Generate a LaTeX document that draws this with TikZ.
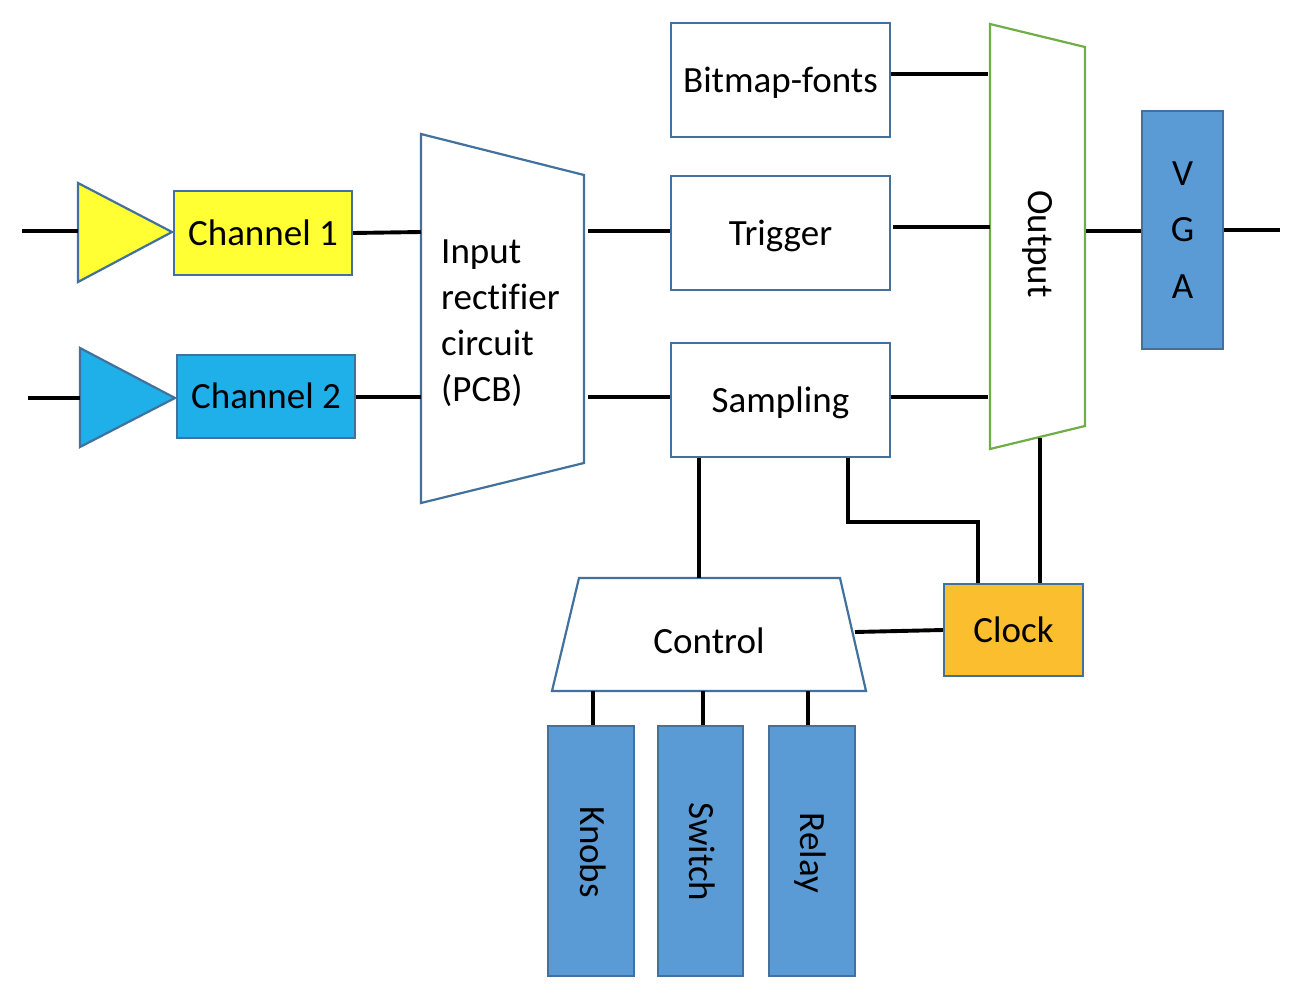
\documentclass[tikz,border=0pt]{standalone}
\usepackage{fontspec}
\setmainfont[Ligatures=NoCommon]{Carlito}
\definecolor{bord}{RGB}{65,113,156}
\definecolor{ylw}{RGB}{255,255,51}
\definecolor{cyanb}{RGB}{31,176,234}
\definecolor{steel}{RGB}{91,155,213}
\definecolor{grn}{RGB}{112,173,71}
\definecolor{orng}{RGB}{251,190,46}
\begin{document}
\begin{tikzpicture}[x=1pt,y=-1pt,
  every node/.style={font=\fontsize{37}{46}\selectfont, inner sep=0pt},
  blk/.style={draw=bord, line width=2.2pt, rectangle},
  lbl/.style={text height=30pt, text depth=6pt},
  wire/.style={line width=3.9pt, black},
  shp/.style={draw=bord, line width=2.2pt, line join=miter}]
\useasboundingbox (0,0) rectangle (1296,996);

% amplifiers
\draw[shp, fill=ylw] (78,183) -- (172,232) -- (78,282) -- cycle;
\draw[shp, fill=cyanb] (80,348) -- (175,398) -- (80,447) -- cycle;
\coordinate (t1w) at (78,231);
\coordinate (t2w) at (80,398);
\coordinate (in1) at (22,231);
\coordinate (in2) at (28,398);
\draw[wire] (in1) -- (t1w);
\draw[wire] (in2) -- (t2w);

% channels
\node[blk, lbl, fill=ylw, minimum width=178, minimum height=84] (ch1) at (263,233) {Channel 1};
\node[blk, lbl, fill=cyanb, minimum width=178, minimum height=83] (ch2) at (266,396.5) {Channel 2};

% input rectifier
\draw[shp, fill=white] (421,134) -- (584,175) -- (584,463) -- (421,503) -- cycle;
\node[anchor=west, align=left] (inp) at (441,323) {Input\\rectifier\\circuit\\(PCB)};
\coordinate (inW1) at (421,232);
\coordinate (inW2) at (421,397);
\coordinate (inE1) at (588,231);
\coordinate (inE2) at (588,397);
\draw[wire] (ch1.east) -- (inW1);
\draw[wire] (ch2.east |- inW2) -- (inW2);

% middle boxes
\node[blk, lbl, fill=white, minimum width=219, minimum height=114] (bmp) at (780.5,80) {Bitmap-fonts};
\node[blk, lbl, fill=white, minimum width=219, minimum height=114] (trig) at (780.5,233) {Trigger};
\node[blk, lbl, fill=white, minimum width=219, minimum height=114] (samp) at (780.5,400) {Sampling};
\draw[wire] (inE1) -- (inE1 -| trig.west);
\draw[wire] (inE2) -- (inE2 -| samp.west);

% output
\draw[draw=grn, line width=2.2pt, fill=white] (990,24) -- (1085,47) -- (1085,426) -- (990,449) -- cycle;
\node[rotate=-90] (outT) at (1038,244) {Output};
\coordinate (oL1) at (988,74);
\coordinate (oL2) at (990,227);
\coordinate (oL3) at (988,397);
\coordinate (oE) at (1086,231);
\coordinate (oB) at (1040,438);
\draw[wire] (bmp.east |- oL1) -- (oL1);
\draw[wire] ([xshift=2pt]trig.east |- oL2) -- (oL2);
\draw[wire] (samp.east |- oL3) -- (oL3);

% VGA
\node[blk, fill=steel, minimum width=81, minimum height=238, align=center,
      font=\fontsize{37}{56.5}\selectfont] (vga) at (1182.5,230) {V\\G\\A};
\coordinate (vR) at (1280,230);
\draw[wire] (oE) -- (oE -| vga.west);
\draw[wire] (vga.east |- vR) -- (vR);

% clock
\node[blk, lbl, fill=orng, minimum width=139, minimum height=92] (clk) at (1013.5,630) {Clock};
\draw[wire] (oB) -- (oB |- clk.north);
\coordinate (sc1) at (848,522);
\coordinate (sc2) at (978,522);
\draw[wire, line join=miter] (samp.south -| sc1) -- (sc1) -- (sc2) -- (sc2 |- clk.north);

% control
\draw[shp, fill=white] (579,578) -- (840,578) -- (866,691) -- (552,691) -- cycle;
\node[lbl] (ctl) at (709,641) {Control};
\coordinate (ctlT) at (699,578);
\coordinate (ctlR) at (855,632);
\coordinate (ctlB) at (700,691);
\draw[wire] (samp.south -| ctlT) -- (ctlT);
\draw[wire] (ctlR) -- (clk.west);

% lower boxes
\node[blk, fill=steel, minimum width=86, minimum height=250] (knb) at (591,851) {};
\node[blk, fill=steel, minimum width=85, minimum height=250] (swt) at (700.5,851) {};
\node[blk, fill=steel, minimum width=86, minimum height=250] (rly) at (812,851) {};
\node[rotate=-90] at (593,852) {Knobs};
\node[rotate=-90] at (702,852) {Switch};
\node[rotate=-90] at (810,853) {Relay};
\draw[wire] ([xshift=2pt]knb.north) -- ([xshift=2pt]knb.north |- ctlB);
\draw[wire] ([xshift=2.5pt]swt.north) -- ([xshift=2.5pt]swt.north |- ctlB);
\draw[wire] ([xshift=-4pt]rly.north) -- ([xshift=-4pt]rly.north |- ctlB);
\end{tikzpicture}
\end{document}
